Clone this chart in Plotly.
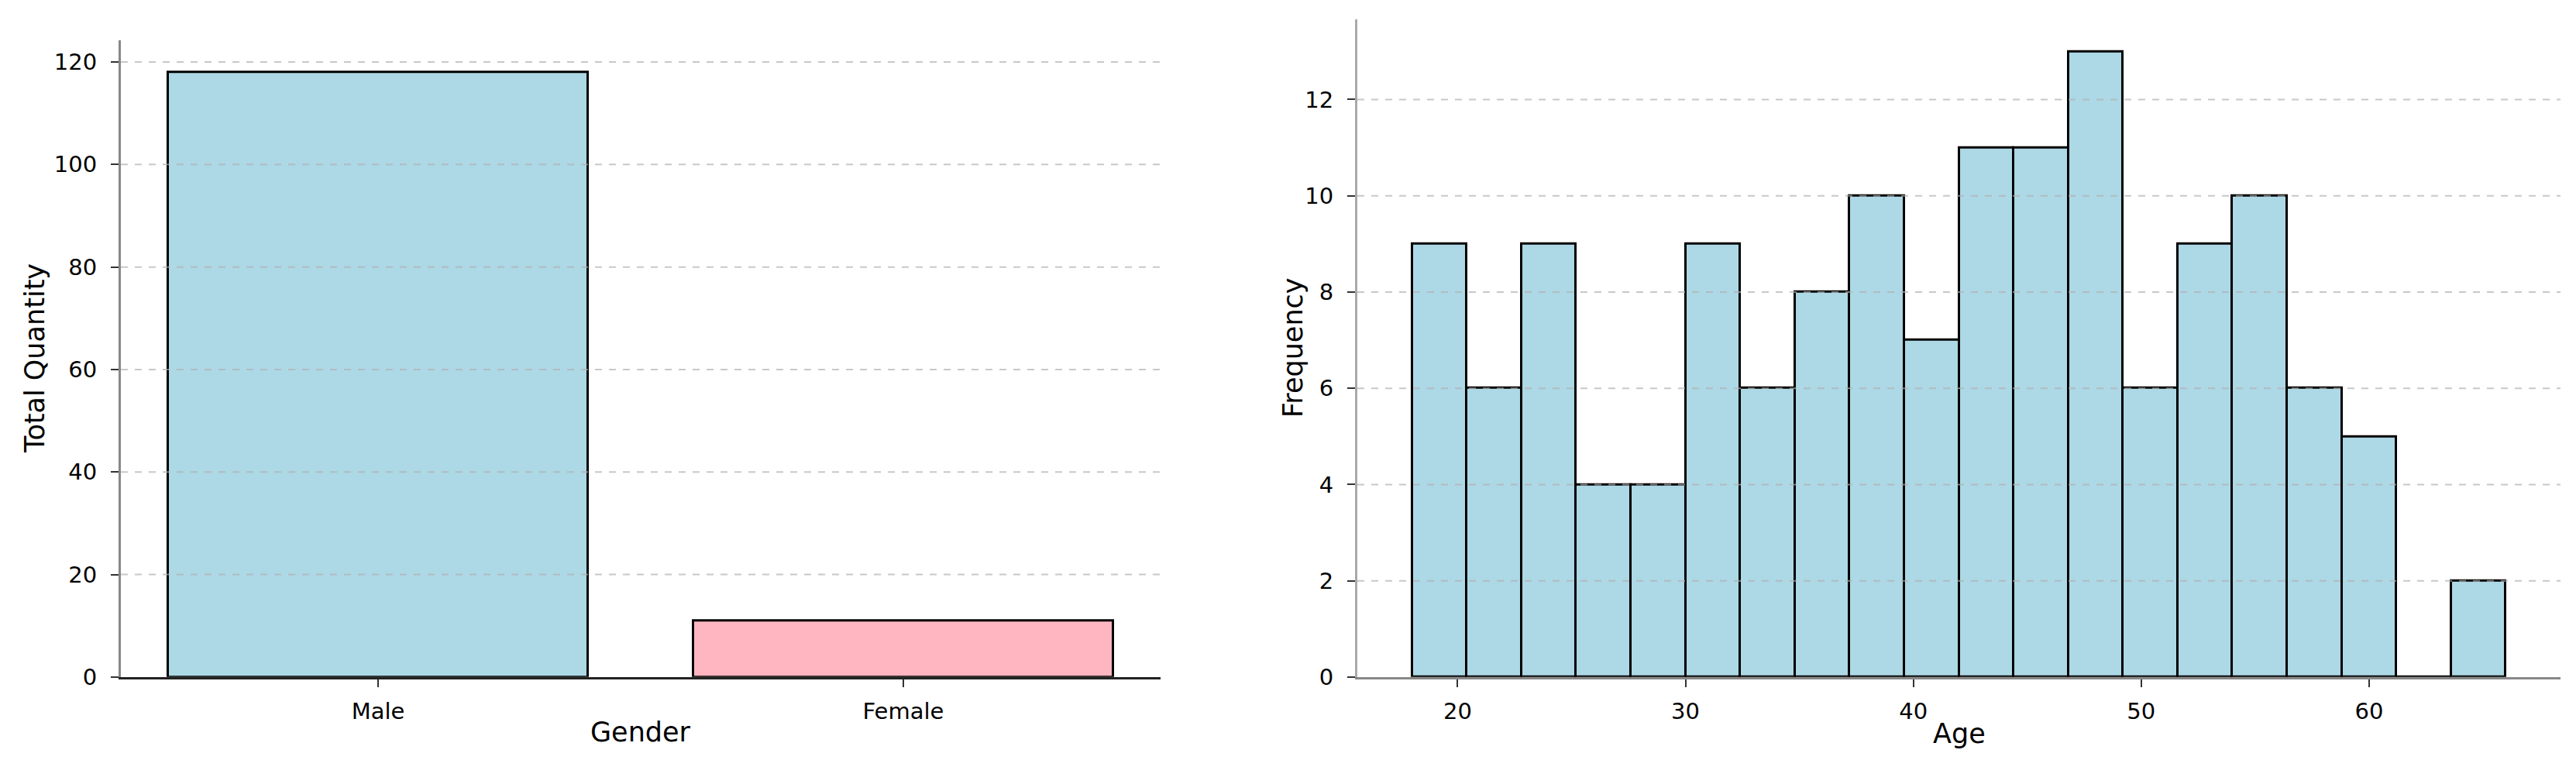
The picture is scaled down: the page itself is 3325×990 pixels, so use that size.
import numpy as np
import plotly.graph_objects as go

# ---- data ----
genders = ["Male", "Female"]
gender_totals = [118, 11]
gender_colors = ["#ADD8E6", "#FFB6C1"]

age_min = 18
age_max = 66
age_bins = 20
age_counts = [9, 6, 9, 4, 4, 9, 6, 8, 10, 7, 11, 11, 13, 6, 9, 10, 6, 5, 0, 2]

qty_ticks = [0, 20, 40, 60, 80, 100, 120]
freq_ticks = [0, 2, 4, 6, 8, 10, 12]
age_ticks = [20, 30, 40, 50, 60]

# ---- figure geometry ----
W, H = 3325, 990
FONT = "DejaVu Sans"

def px_x(p):
    return p / W

def px_y(p):
    return (H - p) / H

edges = np.linspace(age_min, age_max, age_bins + 1)
centers = (edges[:-1] + edges[1:]) / 2
bw = edges[1] - edges[0]

fig = go.Figure()
fig.add_trace(go.Bar(
    x=genders, y=gender_totals, width=0.8,
    marker=dict(color=gender_colors, line=dict(color="black", width=3)),
    xaxis="x", yaxis="y", showlegend=False,
))
fig.add_trace(go.Bar(
    x=centers, y=age_counts, width=bw,
    marker=dict(color="#ADD8E6", line=dict(color="black", width=3)),
    xaxis="x2", yaxis="y2", showlegend=False,
))

tickfont = dict(family=FONT, size=29, color="black")
common = dict(showgrid=False, zeroline=False, ticks="outside", ticklen=10,
              tickwidth=2, tickcolor="#333333", tickfont=tickfont,
              showline=True, linewidth=3)

fig.update_layout(
    width=W, height=H,
    margin=dict(l=0, r=0, t=0, b=0),
    plot_bgcolor="white", paper_bgcolor="white",
    bargap=0,
    xaxis=dict(domain=[px_x(148), px_x(1490)], range=[-0.49, 1.49],
               anchor="y", linecolor="#222222", ticklabelstandoff=6, **common),
    yaxis=dict(domain=[px_y(881), px_y(45)], range=[0, 124.2],
               anchor="x", tickvals=qty_ticks, linecolor="#888888",
               ticklabelstandoff=12, **common),
    xaxis2=dict(domain=[px_x(1744), px_x(3297)], range=[15.6, 68.4],
                anchor="y2", tickvals=age_ticks, linecolor="#888888",
                ticklabelstandoff=6, **common),
    yaxis2=dict(domain=[px_y(881), px_y(17)], range=[0, 13.67],
                anchor="x2", tickvals=freq_ticks, linecolor="#aaaaaa",
                ticklabelstandoff=12, **common),
)

# dashed y gridlines drawn above the bars (as in the reference); the 0 line sits under the axis
grid_line = dict(color="rgba(176,176,176,0.7)", width=2, dash="dash")
for t in qty_ticks[1:]:
    fig.add_shape(type="line", xref="x domain", yref="y", x0=0, x1=1, y0=t, y1=t,
                  line=grid_line, layer="above")
for t in freq_ticks[1:]:
    fig.add_shape(type="line", xref="x2 domain", yref="y2", x0=0, x1=1, y0=t, y1=t,
                  line=grid_line, layer="above")

titlefont = dict(family=FONT, size=35, color="black")
fig.add_annotation(text="Gender", xref="x domain", yref="paper", x=0.5, y=px_y(953),
                   showarrow=False, font=titlefont, xanchor="center", yanchor="middle")
fig.add_annotation(text="Total Quantity", xref="paper", yref="y domain", x=px_x(37), y=0.5,
                   showarrow=False, font=titlefont, textangle=-90,
                   xanchor="center", yanchor="middle")
fig.add_annotation(text="Age", xref="x2 domain", yref="paper", x=0.5, y=px_y(955),
                   showarrow=False, font=titlefont, xanchor="center", yanchor="middle")
fig.add_annotation(text="Frequency", xref="paper", yref="y2 domain", x=px_x(1661), y=0.5,
                   showarrow=False, font=titlefont, textangle=-90,
                   xanchor="center", yanchor="middle")

fig.write_html("out.html")
